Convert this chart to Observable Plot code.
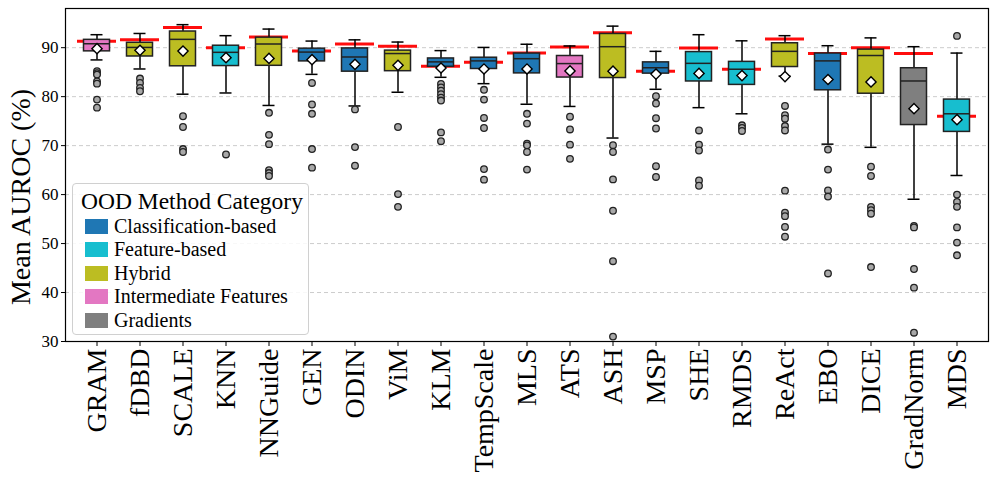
<!DOCTYPE html>
<html>
<head>
<meta charset="utf-8">
<script src="https://cdn.jsdelivr.net/npm/d3@7"></script>
<script src="https://cdn.jsdelivr.net/npm/@observablehq/plot@0.6"></script>
<style>
  html, body { margin: 0; padding: 0; background: #fff; }
  #wrap { position: relative; width: 997px; height: 489px; font-family: "Liberation Serif", serif; }
  #ylabel { position: absolute; left: 21px; top: 197px; transform: translate(-50%, -50%) rotate(-90deg);
    font-size: 28px; white-space: nowrap; line-height: 1; }
  #legend { position: absolute; left: 72px; top: 183px; width: 237px; height: 152px; box-sizing: border-box;
    background: rgba(255,255,255,0.85); border: 1px solid #d0d0d0; border-radius: 4px; }
  #legend .title { position: absolute; left: 8px; top: 4px; font-size: 23.5px; white-space: nowrap; }
  #legend .row { position: absolute; left: 12px; height: 20px; font-size: 20px; white-space: nowrap; display: flex; align-items: center; }
  #legend .sw { width: 23px; height: 15px; margin-right: 6px; }
</style>
</head>
<body>
<div id="wrap"><div id="chart"></div><div id="ylabel"></div><div id="legend"></div></div>
<script>
const methods = ["GRAM","fDBD","SCALE","KNN","NNGuide","GEN","ODIN","ViM","KLM","TempScale","MLS","ATS","ASH","MSP","SHE","RMDS","ReAct","EBO","DICE","GradNorm","MDS"];
const methodCategory = ["Intermediate Features","Hybrid","Hybrid","Feature-based","Hybrid","Classification-based","Classification-based","Hybrid","Classification-based","Classification-based","Classification-based","Intermediate Features","Hybrid","Classification-based","Feature-based","Feature-based","Hybrid","Classification-based","Hybrid","Gradients","Feature-based"];
const q1 =      [89.25, 88.2, 86.2, 86.25, 86.3, 87.2, 85.1, 85.2, 86.1, 85.65, 84.75, 83.9, 83.8, 84.7, 83.1, 82.4, 86.05, 81.3, 80.6, 74.2, 72.8];
const medians = [90.8, 90.05, 91.7, 89.05, 90.75, 89.1, 88.1, 88.8, 87.1, 87.3, 87.75, 86.75, 90.2, 85.9, 86.8, 85.6, 89.25, 87.3, 88.4, 83.2, 76.5];
const q3 =      [91.6, 91.0, 93.3, 90.4, 92.05, 89.8, 89.85, 89.4, 87.8, 87.95, 88.8, 88.3, 92.8, 87.0, 89.1, 87.1, 90.9, 88.8, 89.6, 85.8, 79.4];
const whiskerLow =  [87.5, 85.65, 80.5, 80.75, 78.2, 84.55, 78.1, 80.9, 83.95, 82.65, 78.45, 78.0, 71.55, 81.5, 77.75, 76.5, 84.2, 70.3, 69.65, 59.05, 63.9];
const whiskerHigh = [92.65, 92.9, 94.7, 92.45, 93.8, 91.35, 91.6, 91.15, 89.4, 90.05, 90.7, 90.35, 94.4, 89.25, 92.65, 91.4, 92.45, 90.4, 92.0, 90.2, 88.9];
const means =   [89.8, 89.45, 89.3, 87.95, 87.8, 87.55, 86.6, 86.4, 85.85, 85.65, 85.65, 85.25, 85.2, 84.6, 84.75, 84.3, 84.1, 83.5, 83.0, 77.55, 75.3];
const reference = [91.3, 91.6, 94.1, 90.0, 92.2, 89.3, 90.75, 90.3, 86.2, 87.0, 88.9, 90.15, 93.05, 85.2, 89.95, 85.6, 91.75, 88.8, 90.0, 88.8, 76.0];
const outliers = [
  [85.2, 84.8, 84.5, 83.1, 82.65, 79.4, 77.75],
  [83.7, 82.8, 81.8, 81.1],
  [76.0, 73.8, 69.3, 68.7],
  [68.2],
  [76.7, 72.2, 70.3, 65.0, 64.4, 63.8],
  [82.8, 78.4, 76.5, 69.3, 65.5],
  [77.4, 69.7, 65.9],
  [73.8, 60.1, 57.5],
  [82.6, 81.9, 81.2, 80.5, 79.8, 79.2, 72.7, 70.9],
  [81.4, 79.4, 75.65, 73.6, 65.2, 63.05],
  [76.5, 74.5, 70.4, 70.05, 68.7, 65.1],
  [75.9, 73.3, 70.2, 67.3],
  [70.1, 68.7, 63.1, 56.7, 46.4, 31.0],
  [80.1, 78.6, 75.6, 73.5, 65.8, 63.6],
  [73.1, 70.2, 69.0, 62.9, 61.8],
  [74.15, 73.6, 73.0],
  [78.1, 76.2, 75.5, 74.0, 73.1, 60.8, 56.3, 55.6, 53.4, 51.4],
  [69.2, 65.1, 60.85, 59.6, 43.9],
  [65.7, 63.8, 57.5, 56.8, 56.1, 45.2],
  [53.6, 53.3, 44.8, 41.0, 31.8],
  [92.4, 60.0, 58.5, 57.5, 53.3, 50.2, 47.6]
];
const categoryNames = ["Classification-based","Feature-based","Hybrid","Intermediate Features","Gradients"];
const categoryColors = ["#1f77b4","#17becf","#bcbd22","#e377c2","#7f7f7f"];
const yTicks = [30, 40, 50, 60, 70, 80, 90];
const yLabel = "Mean AUROC (%)";
const legendTitle = "OOD Method Category";

const colorOf = c => categoryColors[categoryNames.indexOf(c)];
const rows = methods.map((m, i) => ({
  method: m, q1: q1[i], med: medians[i], q3: q3[i], lo: whiskerLow[i], hi: whiskerHigh[i],
  mean: means[i], ref: reference[i], color: colorOf(methodCategory[i])
}));
const flierRows = methods.flatMap((m, i) => outliers[i].map(v => ({method: m, v})));

const chart = Plot.plot({
  width: 997, height: 489,
  marginLeft: 65, marginRight: 9, marginTop: 8, marginBottom: 148,
  style: {fontFamily: "Liberation Serif, serif", background: "white", color: "black"},
  x: {type: "band", domain: methods, padding: 0, label: null},
  y: {domain: [30, 98], label: null},
  marks: [
    Plot.gridY(yTicks.filter(t => t > 30), {stroke: "#b8b8b8", strokeOpacity: 0.7, strokeDasharray: "4,3"}),
    Plot.tickY(rows, {x: "method", y: "ref", stroke: "red", strokeWidth: 3, strokeOpacity: 0.95, insetLeft: 2, insetRight: 2}),
    Plot.ruleX(rows, {x: "method", y1: "lo", y2: "hi", stroke: "black", strokeWidth: 1.5}),
    Plot.tickY(rows, {x: "method", y: "lo", stroke: "black", strokeWidth: 1.5, insetLeft: 15.5, insetRight: 15.5}),
    Plot.tickY(rows, {x: "method", y: "hi", stroke: "black", strokeWidth: 1.5, insetLeft: 15.5, insetRight: 15.5}),
    Plot.barY(rows, {x: "method", y1: "q1", y2: "q3", fill: "color", stroke: "#222", strokeWidth: 1.5, insetLeft: 8.5, insetRight: 8.5}),
    Plot.tickY(rows, {x: "method", y: "med", stroke: "#222", strokeWidth: 1.5, insetLeft: 8.5, insetRight: 8.5}),
    Plot.dot(flierRows, {x: "method", y: "v", r: 3.3, fill: "#a8a8a8", stroke: "#222", strokeWidth: 1.3}),
    Plot.dot(rows, {x: "method", y: "mean", symbol: "diamond2", r: 4.6, fill: "white", stroke: "black", strokeWidth: 1.4}),
    Plot.axisY(yTicks, {fontSize: 17, tickSize: 4, tickPadding: 3, label: null}),
    Plot.axisX({tickRotate: -90, fontSize: 28, tickSize: 5, tickPadding: 2, label: null}),
    Plot.frame({stroke: "black", strokeWidth: 1.2})
  ]
});
document.getElementById("chart").appendChild(chart);
document.getElementById("ylabel").textContent = yLabel;

const legend = document.getElementById("legend");
const t = document.createElement("div");
t.className = "title"; t.textContent = legendTitle;
legend.appendChild(t);
categoryNames.forEach((c, i) => {
  const r = document.createElement("div");
  r.className = "row";
  r.style.top = (32 + i * 23.5) + "px";
  const s = document.createElement("span");
  s.className = "sw"; s.style.background = categoryColors[i];
  r.appendChild(s);
  const l = document.createElement("span");
  l.textContent = c;
  r.appendChild(l);
  legend.appendChild(r);
});
</script>
</body>
</html>
